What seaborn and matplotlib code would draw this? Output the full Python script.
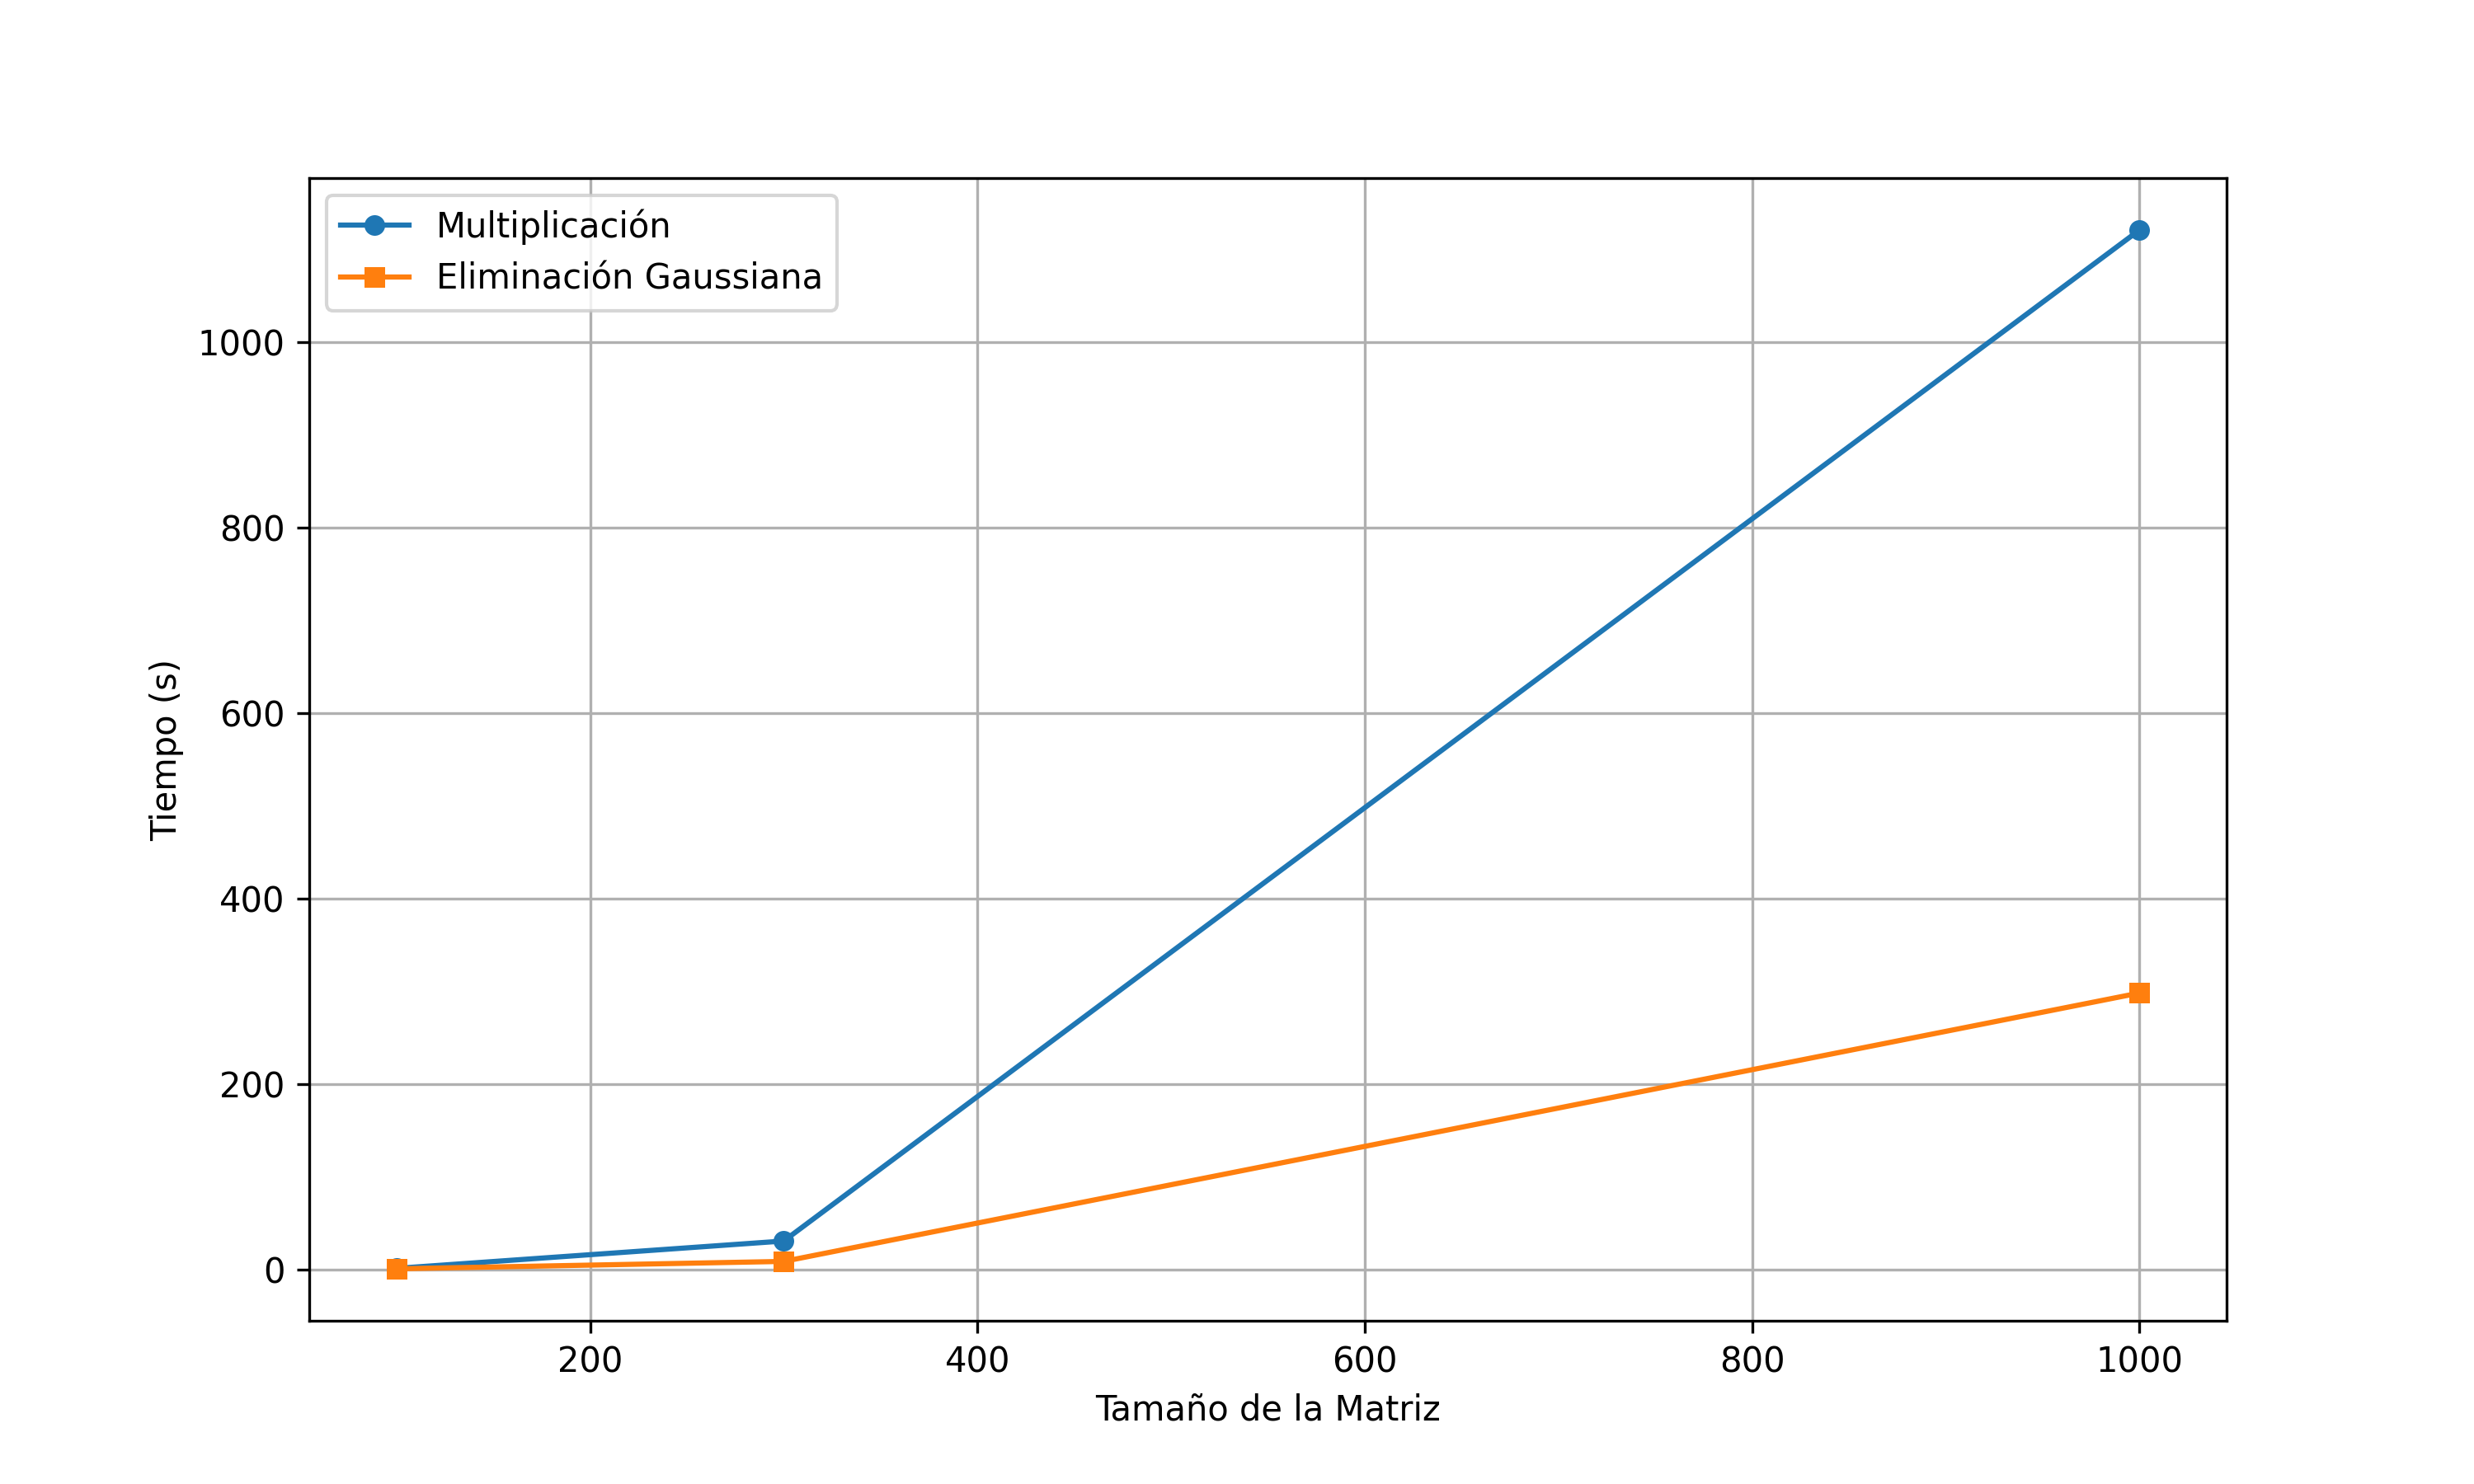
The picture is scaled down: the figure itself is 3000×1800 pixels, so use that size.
import seaborn as sns
import pandas as pd
import matplotlib
matplotlib.use("Agg")
import matplotlib.pyplot as plt

sizes = [100, 300, 1000]
mult_times = [1.0, 30.5, 1121.0]
gauss_times = [0.5, 8.5, 298.0]

df = pd.DataFrame({
    "size": sizes * 2,
    "time": mult_times + gauss_times,
    "method": ["Multiplicación"] * 3 + ["Eliminación Gaussiana"] * 3,
})

fig, ax = plt.subplots(figsize=(10, 6), dpi=300)
sns.lineplot(data=df, x="size", y="time", hue="method", style="method",
             markers=["o", "s"], dashes=False, markersize=6,
             palette=["#1f77b4", "#ff7f0e"], markeredgewidth=0, ax=ax)
ax.legend(loc="upper left")
ax.set_xlabel("Tamaño de la Matriz")
ax.set_ylabel("Tiempo (s)")
ax.grid(True)
fig.savefig("out.png", dpi=300)
